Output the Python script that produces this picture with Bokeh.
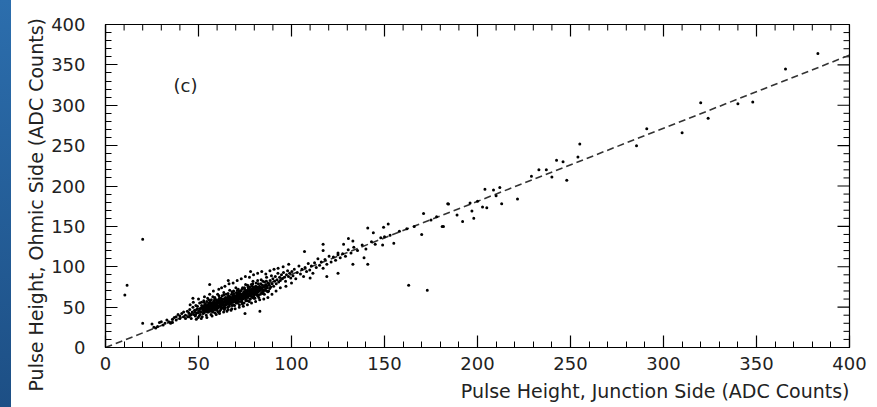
import math
from bokeh.plotting import figure
from bokeh.models import SingleIntervalTicker, Label, Div, Range1d, Title
from bokeh.layouts import row
from bokeh.embed import file_html
from bokeh.resources import INLINE

FONT = "DejaVu Sans"

x_label = "Pulse Height, Junction Side (ADC Counts)"
y_label = "Pulse Height, Ohmic Side (ADC Counts)"
panel_label = "(c)"
axis_min, axis_max = 0, 400
major_ticks = [0, 50, 100, 150, 200, 250, 300, 350, 400]
minor_ticks = [10, 20, 30, 40, 60, 70, 80, 90, 110, 120, 130, 140, 160, 170, 180, 190,
               210, 220, 230, 240, 260, 270, 280, 290, 310, 320, 330, 340, 360, 370, 380, 390]

# fitted line (junction -> ohmic)
fit_x = [0, 400]
fit_y = [0, 362]

# dense core of the distribution (junction, ohmic), read from the cloud
core_a = [
    (44.2, 38), (44.8, 43), (45.3, 47), (45.7, 40), (46.1, 36), (46.6, 44), (47.0, 50), (47.4, 41),
    (47.9, 46), (48.3, 39), (48.6, 52), (49.1, 43), (49.5, 48), (49.8, 37), (50.2, 45), (50.6, 55),
    (50.9, 41), (51.3, 49), (51.7, 52), (52.0, 38), (52.4, 46), (52.8, 58), (53.1, 43), (53.5, 50),
    (53.8, 54), (54.2, 40), (54.6, 47), (54.9, 61), (55.3, 44), (55.6, 52), (55.9, 49), (56.3, 57),
    (56.7, 41), (57.0, 54), (57.4, 46), (57.7, 63), (58.1, 50), (58.5, 56), (58.8, 43), (59.2, 53),
    (59.6, 59), (59.9, 48), (60.3, 66), (60.6, 51), (61.0, 57), (61.4, 45), (61.7, 54), (62.1, 61),
    (62.5, 49), (62.8, 58), (63.2, 52), (63.6, 68), (63.9, 47), (64.3, 56), (64.6, 62), (65.0, 53),
    (65.4, 59), (65.7, 50), (66.1, 64), (66.5, 57), (66.8, 71), (67.2, 54), (67.6, 60), (67.9, 48),
    (68.3, 63), (68.7, 58), (69.0, 67), (69.4, 52), (69.8, 61), (70.1, 74), (70.5, 56), (70.9, 64),
    (71.2, 59), (71.6, 69), (72.0, 53), (72.3, 62), (72.7, 66), (73.1, 57), (73.4, 72), (73.8, 60),
    (74.2, 64), (74.5, 55), (74.9, 68), (75.3, 78), (75.6, 62), (76.0, 66), (76.4, 58), (76.7, 71),
    (77.1, 64), (77.5, 75), (77.8, 60), (78.2, 68), (78.6, 63), (78.9, 73), (79.3, 82), (79.7, 66),
    (80.0, 70), (80.4, 61), (80.8, 76), (81.1, 68), (81.5, 72), (81.9, 64), (82.2, 79), (82.6, 70),
    (83.0, 74), (83.3, 66), (83.7, 84), (84.1, 72), (84.4, 77), (84.8, 69), (85.2, 75), (85.5, 81),
    (85.9, 71), (86.3, 78), (86.6, 87), (87.0, 74), (87.4, 80), (87.7, 70), (88.1, 77), (88.5, 83),
    (88.8, 75), (89.2, 89), (89.6, 79), (90.0, 85), (90.4, 76), (90.9, 82), (91.3, 88), (91.8, 79),
    (92.2, 84), (92.7, 92), (93.1, 81), (93.6, 87), (94.0, 83), (94.6, 90), (95.1, 85), (95.7, 93),
    (96.2, 87), (96.8, 82), (97.3, 90), (97.9, 95), (98.4, 88), (99.0, 92), (99.6, 86), (100.2, 94),
]
core_b = [
    (48.0, 44), (48.5, 41), (49.0, 47), (49.4, 51), (49.9, 43), (50.4, 39), (50.8, 48), (51.2, 44),
    (51.6, 56), (52.1, 50), (52.5, 42), (52.9, 47), (53.3, 53), (53.7, 45), (54.0, 51), (54.4, 57),
    (54.8, 44), (55.1, 50), (55.5, 47), (55.8, 55), (56.2, 45), (56.5, 52), (56.9, 59), (57.2, 50),
    (57.6, 44), (57.9, 56), (58.3, 52), (58.7, 60), (59.0, 47), (59.4, 55), (59.8, 51), (60.1, 58),
    (60.5, 44), (60.8, 55), (61.2, 61), (61.6, 50), (61.9, 58), (62.3, 53), (62.7, 64), (63.0, 55),
    (63.4, 49), (63.8, 60), (64.1, 53), (64.5, 58), (64.9, 66), (65.2, 56), (65.6, 62), (65.9, 47),
    (66.3, 59), (66.7, 54), (67.0, 63), (67.4, 57), (67.8, 66), (68.1, 52), (68.5, 60), (68.9, 70),
    (69.2, 57), (69.6, 64), (70.0, 59), (70.3, 55), (70.7, 67), (71.1, 61), (71.4, 72), (71.8, 57),
    (72.2, 64), (72.5, 70), (72.9, 60), (73.3, 65), (73.6, 54), (74.0, 67), (74.4, 62), (74.7, 74),
    (75.1, 65), (75.5, 59), (75.8, 70), (76.2, 63), (76.6, 75), (76.9, 67), (77.3, 57), (77.7, 69),
    (78.0, 65), (78.4, 78), (78.8, 70), (79.1, 62), (79.5, 69), (79.9, 75), (80.2, 66), (80.6, 72),
    (81.0, 80), (81.3, 65), (81.7, 75), (82.1, 69), (82.4, 62), (82.8, 76), (83.2, 71), (83.5, 79),
    (83.9, 68), (84.3, 74), (84.6, 82), (85.0, 71), (85.4, 66), (85.7, 76), (86.1, 73), (86.5, 82),
    (86.9, 76), (87.3, 69), (87.8, 79), (88.3, 73),
]
core_c = [
    (52.3, 49), (52.7, 44), (53.0, 51), (53.4, 47), (53.9, 49), (54.3, 45), (54.7, 52), (55.0, 48),
    (55.4, 55), (55.7, 46), (56.1, 51), (56.4, 48), (56.8, 54), (57.1, 47), (57.5, 52), (57.8, 49),
    (58.2, 55), (58.6, 47), (58.9, 52), (59.3, 49), (59.7, 57), (60.0, 53), (60.4, 49), (60.7, 56),
    (61.1, 52), (61.5, 59), (61.8, 55), (62.2, 50), (62.6, 56), (62.9, 53), (63.3, 60), (63.7, 56),
    (64.0, 51), (64.4, 59), (64.8, 55), (65.1, 61), (65.5, 57), (65.8, 54), (66.2, 60), (66.6, 56),
    (66.9, 62), (67.3, 58), (67.7, 55), (68.0, 61), (68.4, 57), (68.8, 64), (69.1, 60), (69.5, 57),
    (69.9, 63), (70.2, 60), (70.6, 65), (71.0, 58), (71.3, 63), (71.7, 66), (72.1, 60), (72.4, 67),
    (72.8, 63), (73.2, 59), (73.5, 66), (73.9, 63), (74.3, 69), (74.6, 61), (75.0, 66), (75.4, 71),
    (75.7, 64), (76.1, 68), (76.5, 62), (76.8, 70), (77.2, 66), (77.6, 72), (77.9, 67), (78.3, 64),
    (78.7, 71), (79.0, 68), (79.4, 73), (79.8, 64), (80.1, 71), (80.5, 68), (80.9, 74), (81.2, 70),
    (81.6, 66), (82.0, 73),
]
core_d = [
    (54.1, 50), (55.2, 53), (56.0, 47), (57.0, 51), (58.0, 54), (59.1, 50), (60.2, 55), (61.3, 51),
    (62.0, 57), (63.1, 54), (64.2, 57), (65.0, 55), (66.0, 58), (67.1, 59), (68.2, 56), (69.3, 61),
    (70.0, 62), (71.1, 60), (72.0, 63), (73.0, 61), (74.0, 65), (75.1, 63), (76.0, 67), (77.0, 65),
    (78.1, 69), (79.0, 66), (80.0, 69), (81.0, 72), (82.0, 70), (83.0, 73), (56.6, 55), (58.4, 58),
    (60.9, 59), (62.4, 60), (64.6, 61), (66.8, 63), (68.6, 65), (70.4, 68), (72.6, 70), (74.8, 72),
    (76.8, 73), (78.9, 76), (57.5, 45), (59.9, 46), (62.0, 47), (64.3, 49), (66.5, 51), (68.9, 53),
    (71.0, 55), (73.3, 56), (75.5, 58), (77.7, 60), (79.8, 61), (82.3, 65), (84.5, 67), (86.7, 70),
    (53.0, 56), (55.5, 59), (58.8, 62), (61.0, 64), (63.6, 65), (65.9, 67), (68.0, 69), (70.9, 71),
    (73.7, 74), (76.4, 77), (79.2, 79), (81.8, 83),
]
halo = [
    (45.5, 53), (47.2, 56), (47.0, 61), (48.8, 35), (50.0, 60), (51.5, 36), (53.2, 63), (54.5, 37),
    (56.0, 66), (56.0, 78), (57.3, 39), (58.0, 70), (59.5, 41), (60.9, 72), (61.3, 42), (62.4, 74),
    (63.5, 44), (64.2, 76), (65.3, 45), (66.4, 79), (66.0, 83), (67.5, 46), (68.6, 80), (69.7, 48),
    (70.8, 83), (71.9, 50), (73.0, 85), (74.1, 51), (75.2, 88), (75.0, 42), (76.3, 53), (77.4, 87),
    (78.0, 94), (78.5, 55), (79.6, 90), (80.7, 57), (81.8, 92), (82.9, 59), (83.0, 45), (84.0, 94),
    (85.1, 60), (86.2, 91), (87.3, 62), (88.4, 95), (89.5, 66), (90.6, 97), (91.7, 70), (92.8, 98),
    (94.0, 74), (95.5, 100), (97.0, 76), (98.5, 103), (100.0, 80),
]
upper_band = [
    (100.8, 89), (101.5, 97), (102.3, 85), (103.1, 93), (104.0, 101), (104.8, 91), (105.6, 97),
    (106.5, 88), (107.3, 99), (108.1, 94), (109.0, 104), (109.8, 96), (110.7, 101), (111.5, 92),
    (112.4, 105), (113.3, 99), (114.2, 110), (115.1, 102), (116.0, 106), (117.0, 98), (118.0, 109),
    (119.0, 103), (120.2, 113), (121.3, 106), (122.5, 112), (123.7, 108), (125.0, 117), (126.2, 111),
    (127.5, 116), (129.0, 113), (130.5, 121), (132.0, 117), (133.5, 124), (135.5, 120), (138.0, 127),
    (140.0, 122), (143.0, 131), (145.0, 128), (148.0, 136), (150, 137), (153, 139), (158, 144),
    (162, 147), (166, 150), (175, 158), (178, 162),
]
# low-amplitude streak and isolated events
sparse_points = [
    (20, 30), (25, 29), (28, 26), (30, 32), (32, 30), (34, 32), (36, 35), (37, 37),
    (38, 34), (39, 41), (41, 42), (42, 38), (43, 40), (44, 45), (35, 30), (40, 36),
    (26, 25), (29, 31), (31, 28), (33, 34), (36, 31), (38, 38), (40, 39), (42, 44),
    (43, 36), (45, 38), (46, 41), (27, 24),
    (20, 134), (11.6, 77), (10.4, 65),
    (107, 119), (110, 86), (117, 128), (117, 120), (119, 88), (125, 92), (125, 115),
    (128, 128), (130.6, 135), (133, 132), (133, 103), (139, 111), (141, 148), (141, 103),
    (144, 142), (149, 127), (149.5, 149), (152, 153), (155, 129), (163, 77), (170, 140),
    (171, 166), (173, 71), (181, 150), (181.7, 150), (184.4, 177.6), (184, 178),
    (189, 164), (192, 156), (196, 179), (197, 169), (198, 160), (200, 181), (202.7, 174),
    (204, 196), (205, 173), (208.6, 195), (210, 188), (212, 198), (213, 178),
    (221.5, 184), (229, 212), (233, 220), (237, 220), (240, 211), (242.5, 232),
    (246, 230), (248, 207), (254, 236), (255, 252), (285.5, 250), (291, 271),
    (310, 266), (320, 303), (324, 284), (340, 302), (348, 304), (365.6, 345), (383, 364),
]

xs, ys = [], []
for group in (core_a, core_b, core_c, core_d, halo, upper_band, sparse_points):
    for x, y in group:
        xs.append(x)
        ys.append(y)

p = figure(width=866, height=407, output_backend="svg", toolbar_location=None,
           x_range=Range1d(axis_min, axis_max), y_range=Range1d(axis_min, axis_max),
           min_border_left=94, min_border_right=28, min_border_top=24, min_border_bottom=20,
           background_fill_color="white", border_fill_color="white", margin=0)
p.grid.visible = False
p.outline_line_color = "black"
p.outline_line_width = 1.2

for ax in (p.xaxis[0], p.yaxis[0]):
    ax.ticker = SingleIntervalTicker(interval=50, num_minor_ticks=5)
    ax.major_tick_in = 12
    ax.major_tick_out = 0
    ax.minor_tick_in = 6
    ax.minor_tick_out = 0
    ax.axis_line_color = "black"
    ax.axis_line_width = 1.2
    ax.major_tick_line_color = "black"
    ax.minor_tick_line_color = "black"
    ax.major_tick_line_width = 1.2
    ax.minor_tick_line_width = 1
    ax.major_label_text_font = FONT
    ax.major_label_text_font_size = "18px"
    ax.major_label_text_color = "#222222"
p.xaxis[0].major_label_standoff = 9
p.yaxis[0].major_label_standoff = 20

# ticks along the top and right frame edges (inner halves of dash markers survive clipping)
top_major_y = [axis_max] * len(major_ticks)
top_minor_y = [axis_max] * len(minor_ticks)
p.scatter(major_ticks, top_major_y, marker="dash", angle=math.pi / 2, size=24,
          line_color="black", line_width=1.2)
p.scatter(minor_ticks, top_minor_y, marker="dash", angle=math.pi / 2, size=12,
          line_color="black", line_width=1)
p.scatter(top_major_y, major_ticks, marker="dash", size=24, line_color="black", line_width=1.2)
p.scatter(top_minor_y, minor_ticks, marker="dash", size=12, line_color="black", line_width=1)

p.line(fit_x, fit_y, line_color="#333333", line_width=1.6, line_dash="7 4")
p.scatter(xs, ys, marker="circle", size=3.0, fill_color="black", line_color=None)

p.add_layout(Label(x=43, y=324, text=panel_label, text_align="center", text_baseline="middle",
                   text_font=FONT, text_font_size="18px", text_color="#222222"))

xt = Title(text=x_label, align="right", text_font=FONT, text_font_size="19px",
           text_font_style="normal", text_color="#222222", standoff=11)
p.add_layout(xt, "below")
yt = Title(text=y_label, align="left", offset=-44, text_font=FONT, text_font_size="19px",
           text_font_style="normal", text_color="#222222", standoff=4)
p.add_layout(yt, "left")

strip = Div(text="", width=11, height=407, margin=0,
            styles={"background": "linear-gradient(to bottom, #2c6ead, #1d4f85)",
                    "margin": "0", "padding": "0"})
layout = row(strip, p, spacing=0, margin=0)

open("out.html", "w").write(file_html(layout, INLINE))
